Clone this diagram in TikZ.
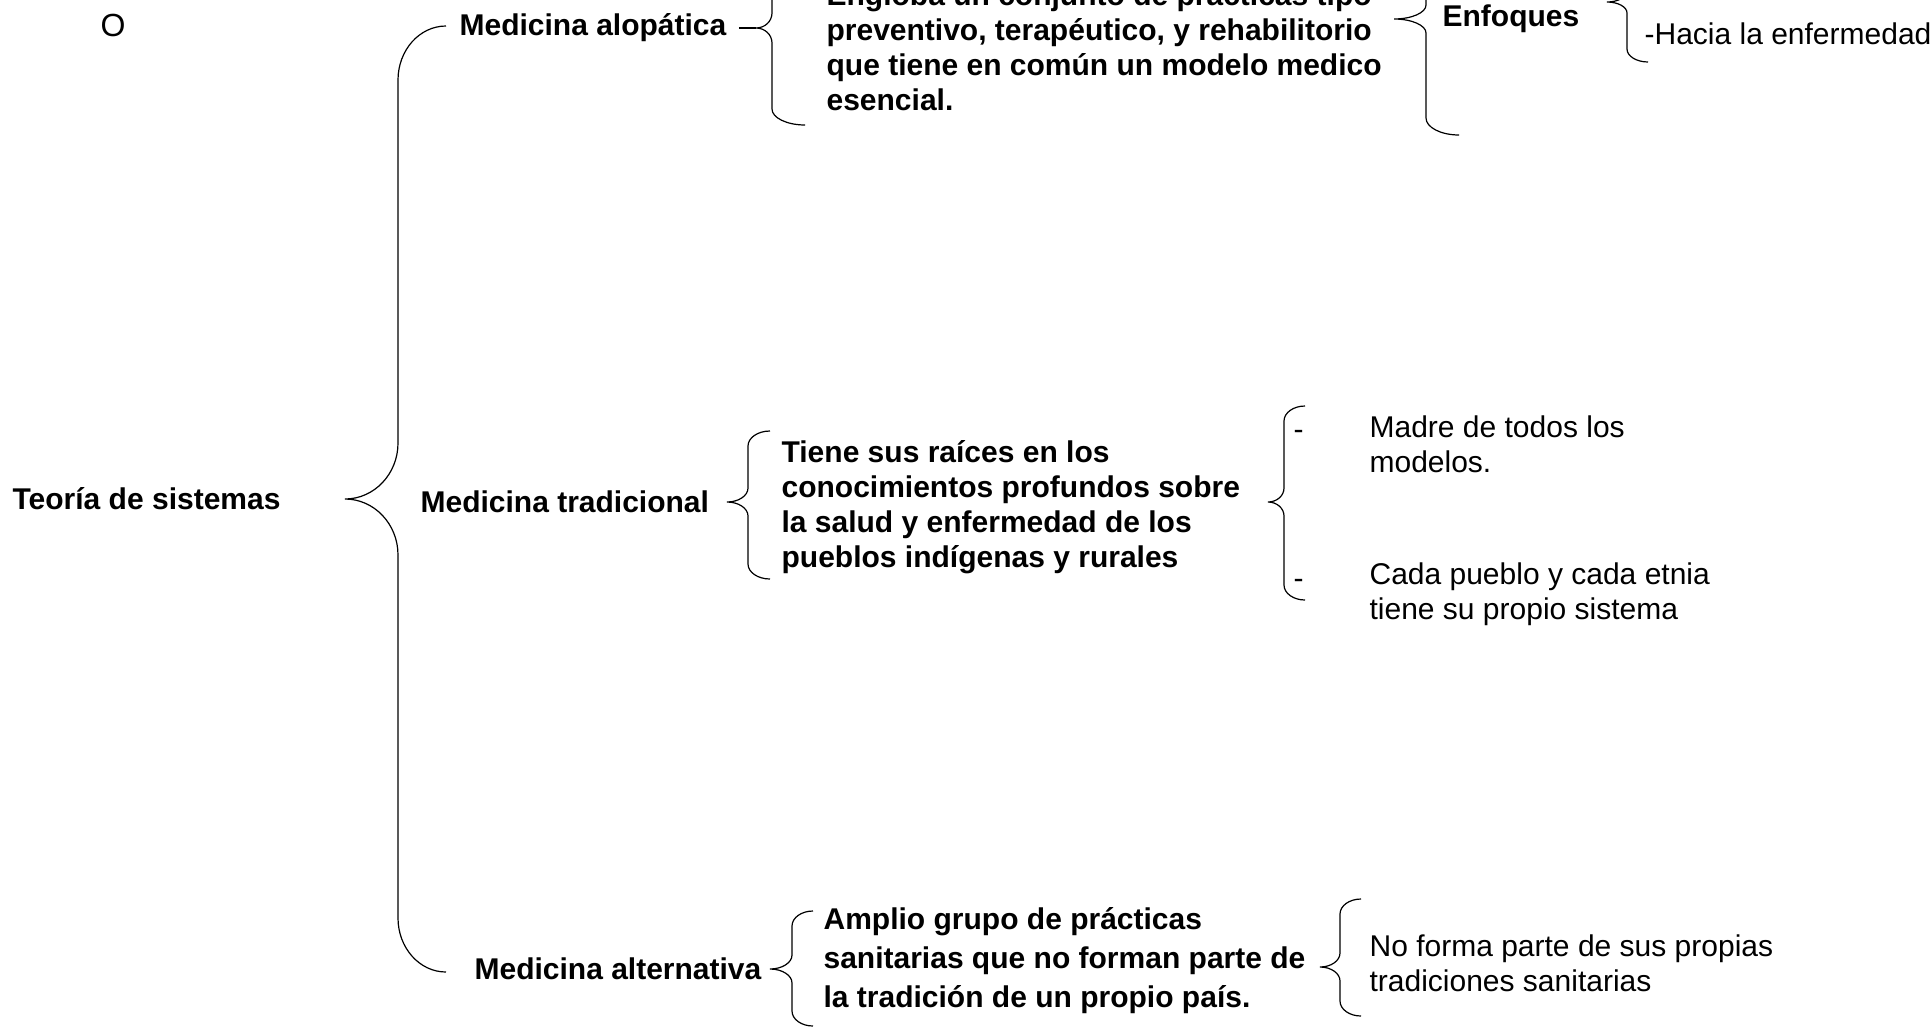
\documentclass[tikz,border=0pt]{standalone}
\usepackage{fontspec}
\setmainfont{Liberation Sans}

% llave: tip x, tip y, line x, end x, top y, bottom y, end curve, tip curve
\newcommand{\llave}[8]{%
  \draw (#4,#5) .. controls (#4+0.552*#3-0.552*#4,#5) and (#3,#5+0.448*#7) .. (#3,#5+#7)
    -- (#3,#2-#8) .. controls (#3,#2-0.448*#8) and (#1+0.552*#3-0.552*#1,#2) .. (#1,#2)
    .. controls (#1+0.552*#3-0.552*#1,#2) and (#3,#2+0.448*#8) .. (#3,#2+#8)
    -- (#3,#6-#7) .. controls (#3,#6-0.448*#7) and (#4+0.552*#3-0.552*#4,#6) .. (#4,#6);
}

\begin{document}
\begin{tikzpicture}[x=0.5pt,y=-0.5pt,line width=0.6pt]

      \useasboundingbox (0,0) rectangle (1931,1029);

      \begin{scope}[every node/.style={anchor=west,inner sep=0pt,align=left,font=\fontsize{15}{17.5}\selectfont\bfseries}]
        \node (teoria) at (12,499) {Teoría de sistemas};
        \node (alop) at (459,28) {Medicina alopática};
        \node (engloba) at (826,47) {Engloba un conjunto de prácticas tipo\\preventivo, terapéutico, y rehabilitorio\\que tiene en común un modelo medico\\esencial.};
        \node (enfoques) at (1442,19) {Enfoques};
        \node (trad) at (420,502) {Medicina tradicional};
        \node (raices) at (781,507) {Tiene sus raíces en los\\conocimientos profundos sobre\\la salud y enfermedad de los\\pueblos indígenas y rurales};
        \node (alter) at (474,969) {Medicina alternativa};
        \node[font=\fontsize{15}{19.5}\selectfont\bfseries] (amplio) at (823,961) {Amplio grupo de prácticas\\sanitarias que no forman parte de\\la tradición de un propio país.};
      \end{scope}

      \begin{scope}[every node/.style={anchor=west,inner sep=0pt,align=left,font=\fontsize{15}{17.5}\selectfont}]
        \node[font=\fontsize{16}{18}\selectfont] (o) at (100,25) {O};
        \node (hacia) at (1644,34) {-Hacia la enfermedad};
        \node (g1) at (1293,435) {-};
        \node (madre) at (1369,444) {Madre de todos los\\modelos.};
        \node (g2) at (1293,584) {-};
        \node (cada) at (1369,594) {Cada pueblo y cada etnia\\tiene su propio sistema};
        \node (noforma) at (1369,963) {No forma parte de sus propias\\tradiciones sanitarias};
      \end{scope}

      % llaves
      \llave{345}{499}{398}{446}{26}{972}{54}{56}
      \llave{756}{28}{772}{805}{-70}{125}{16}{15}
      \llave{1394}{19}{1426}{1459}{-100}{135}{17}{14}
      \llave{1607}{2}{1627}{1648}{-60}{62}{13}{11}
      \llave{727}{502}{748}{770}{431}{579}{15}{14}
      \llave{1268}{502}{1284}{1305}{406}{600}{15}{14}
      \llave{770}{969}{792}{813}{911}{1026}{15}{14}
      \llave{1320}{967}{1340}{1361}{899}{1016}{15}{14}

      \coordinate (ta) at (756,28);
      \draw ([xshift=6pt]alop.east) -- (ta);

    \end{tikzpicture}
\end{document}
